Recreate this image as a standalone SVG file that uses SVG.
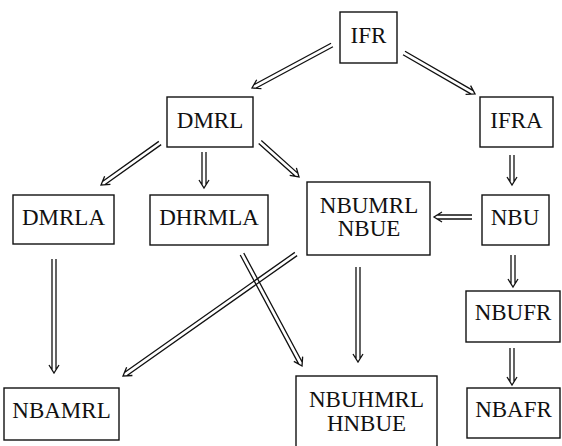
<svg xmlns="http://www.w3.org/2000/svg" width="562" height="446" viewBox="0 0 562 446">
<style>
.box{fill:#fff;stroke:#111;stroke-width:1.4}
.t{font-family:"Liberation Serif","Times New Roman",serif;font-size:23px;fill:#111;text-anchor:middle}
.a{fill:none;stroke:#111;stroke-width:1.3;stroke-linejoin:miter}
</style>
<rect width="562" height="446" fill="#fff"/>
<g id="connectors">
<g transform="translate(332,45) rotate(151.74)"><path class="a" d="M0,-2H87.6M0,2H87.6M82.8,-5L90.8,0L82.8,5"/></g>
<g transform="translate(404,53) rotate(30)"><path class="a" d="M0,-2H78.8M0,2H78.8M74,-5L82,0L74,5"/></g>
<g transform="translate(160,143) rotate(144.56)"><path class="a" d="M0,-2H69.2M0,2H69.2M64.4,-5L72.4,0L64.4,5"/></g>
<g transform="translate(204,152) rotate(90)"><path class="a" d="M0,-2H32.8M0,2H32.8M28,-5L36,0L28,5"/></g>
<g transform="translate(260,142) rotate(41.9)"><path class="a" d="M0,-2H49.2M0,2H49.2M44.4,-5L52.4,0L44.4,5"/></g>
<g transform="translate(512,155) rotate(90)"><path class="a" d="M0,-2H26.8M0,2H26.8M22,-5L30,0L22,5"/></g>
<g transform="translate(472,217) rotate(180)"><path class="a" d="M0,-2H34.8M0,2H34.8M30,-5L38,0L30,5"/></g>
<g transform="translate(54,259) rotate(90)"><path class="a" d="M0,-2H110.8M0,2H110.8M106,-5L114,0L106,5"/></g>
<g transform="translate(296,254) rotate(144.81)"><path class="a" d="M0,-2H208.5M0,2H208.5M203.7,-5L211.7,0L203.7,5"/></g>
<g transform="translate(242,254) rotate(61.82)"><path class="a" d="M0,-2H123.9M0,2H123.9M119.1,-5L127.1,0L119.1,5"/></g>
<g transform="translate(358,267) rotate(90)"><path class="a" d="M0,-2H91.8M0,2H91.8M87,-5L95,0L87,5"/></g>
<g transform="translate(513,255) rotate(90)"><path class="a" d="M0,-2H28.8M0,2H28.8M24,-5L32,0L24,5"/></g>
<g transform="translate(512,348) rotate(90)"><path class="a" d="M0,-2H33.8M0,2H33.8M29,-5L37,0L29,5"/></g>
</g>
<g id="IFR"><rect class="box" x="340" y="12" width="57" height="51"/><text class="t" x="368.5" y="43">IFR</text></g>
<g id="DMRL"><rect class="box" x="167" y="97" width="86" height="50"/><text class="t" x="210" y="128">DMRL</text></g>
<g id="IFRA"><rect class="box" x="480" y="97" width="73" height="50"/><text class="t" x="516.5" y="128">IFRA</text></g>
<g id="DMRLA"><rect class="box" x="13" y="195" width="101" height="49"/><text class="t" x="63.5" y="225">DMRLA</text></g>
<g id="DHRMLA"><rect class="box" x="150" y="195" width="118" height="50"/><text class="t" x="209" y="225">DHRMLA</text></g>
<g id="NBUMRL"><rect class="box" x="307" y="182" width="123" height="73"/><text class="t" x="369" y="213">NBUMRL</text><text class="t" x="369" y="236">NBUE</text></g>
<g id="NBU"><rect class="box" x="482" y="195" width="67" height="50"/><text class="t" x="515" y="225">NBU</text></g>
<g id="NBUFR"><rect class="box" x="466" y="291" width="94" height="51"/><text class="t" x="513" y="320">NBUFR</text></g>
<g id="NBAMRL"><rect class="box" x="4" y="388" width="115" height="52"/><text class="t" x="61.5" y="418">NBAMRL</text></g>
<g id="NBUHMRL"><rect class="box" x="296" y="376" width="141" height="80"/><text class="t" x="366.5" y="407">NBUHMRL</text><text class="t" x="366.5" y="431">HNBUE</text></g>
<g id="NBAFR"><rect class="box" x="467" y="388" width="93" height="50"/><text class="t" x="513.5" y="417">NBAFR</text></g>
</svg>
